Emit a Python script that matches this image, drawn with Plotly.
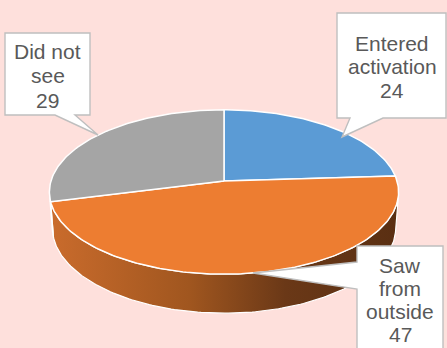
import numpy as np
import plotly.graph_objects as go

# ---- data ----
labels = ["Entered activation", "Saw from outside", "Did not see"]
label_lines = [["Entered", "activation"], ["Saw", "from", "outside"], ["Did not", "see"]]
values = [24, 47, 29]

# ---- styling ----
W, H = 447, 348
BG = "#FEE0DC"
top_colors = ["#5B9BD5", "#ED7D31", "#A5A5A5"]
side_scales = [
    [[0, "#4A82B5"], [1, "#2A4D70"]],
    [[0, "#C96B2C"], [0.4, "#A0561F"], [0.68, "#6A3817"], [1, "#5A2F12"]],
    [[0, "#8C8C8C"], [1, "#6A6A6A"]],
]
TEXT_COLOR = "#595959"
FONT = "Liberation Sans, Arial, sans-serif"
FONT_SIZE = 21

# ---- 3-D pie projection (perspective view of a tilted disc) ----
CX, CY = 224, 181          # pixel position of the pie centre
FOCAL, DIST = 1142.0, 6.6  # camera focal length / distance (radius units)
TILT = np.radians(27.8)
THICK = 0.235              # disc thickness (radius units)


def project(phi_deg, hgt):
    phi = np.radians(phi_deg)
    u = np.sin(phi)
    v = -np.cos(phi)
    y_up = hgt * np.cos(TILT) - v * np.sin(TILT)
    z = DIST - v * np.cos(TILT) - hgt * np.sin(TILT)
    return CX + FOCAL * u / z, CY - FOCAL * y_up / z


def arc(a0, a1, hgt):
    phis = np.linspace(a0, a1, max(int(abs(a1 - a0)) + 2, 3))
    return project(phis, hgt)


total = sum(values)
bounds = np.concatenate([[0], np.cumsum(values) / total * 360.0])

# range of the outer wall that faces the camera
v_t = 1.0 / (DIST * np.cos(TILT))
vis0 = np.degrees(np.arccos(-v_t))
vis1 = 360.0 - vis0

fig = go.Figure()

# outer walls
for i in range(len(values)):
    s0, s1 = max(bounds[i], vis0), min(bounds[i + 1], vis1)
    if s1 <= s0:
        continue
    tx, ty = arc(s0, s1, 0.0)
    bx, by = arc(s1, s0, -THICK)
    xs = np.concatenate([tx, bx, tx[:1]])
    ys = np.concatenate([ty, by, ty[:1]])
    fig.add_trace(go.Scatter(
        x=xs, y=ys, mode="lines", fill="toself",
        fillgradient=dict(type="horizontal", colorscale=side_scales[i],
                          start=52, stop=396),
        line=dict(color="white", width=1.2), hoverinfo="skip"))

# top faces
for i in range(len(values)):
    ax_, ay_ = arc(bounds[i], bounds[i + 1], 0.0)
    xs = np.concatenate([[CX], ax_, [CX]])
    ys = np.concatenate([[CY], ay_, [CY]])
    fig.add_trace(go.Scatter(
        x=xs, y=ys, mode="lines", fill="toself", fillcolor=top_colors[i],
        line=dict(color="white", width=1.5), hoverinfo="text",
        text=f"{labels[i]}: {values[i]}"))

# ---- callouts ----
callout_paths = [
    "M337,13 L446,13 L446,118 L383,118 L342,137 L350,118 L337,118 Z",
    "M357,246 L443,246 L443,360 L357,360 L357,289 L253,273 L357,262 Z",
    "M5,33 L90,33 L90,115 L75,115 L98,135 L55,115 L5,115 Z",
]
text_centers = [392, 400, 47.5]
first_baselines = [50, 272, 58]
line_step = [23.5, 23.3, 24.5]

shapes = []
annotations = []
for i in range(len(values)):
    shapes.append(dict(type="path", path=callout_paths[i], xref="x", yref="y",
                       fillcolor="white", line=dict(color="#BFBFBF", width=1.4),
                       layer="above"))
    lines = label_lines[i] + [str(values[i])]
    for k, txt in enumerate(lines):
        base = first_baselines[i] + k * line_step[i]
        annotations.append(dict(
            x=text_centers[i], y=base - 7, xref="x", yref="y", text=txt,
            showarrow=False, xanchor="center", yanchor="middle",
            font=dict(family=FONT, size=FONT_SIZE, color=TEXT_COLOR)))

fig.update_layout(
    width=W, height=H, margin=dict(l=0, r=0, t=0, b=0),
    paper_bgcolor=BG, plot_bgcolor=BG, showlegend=False,
    xaxis=dict(range=[0, W], visible=False, fixedrange=True),
    yaxis=dict(range=[H, 0], visible=False, fixedrange=True),
    shapes=shapes, annotations=annotations,
)

fig.write_html("out.html")
